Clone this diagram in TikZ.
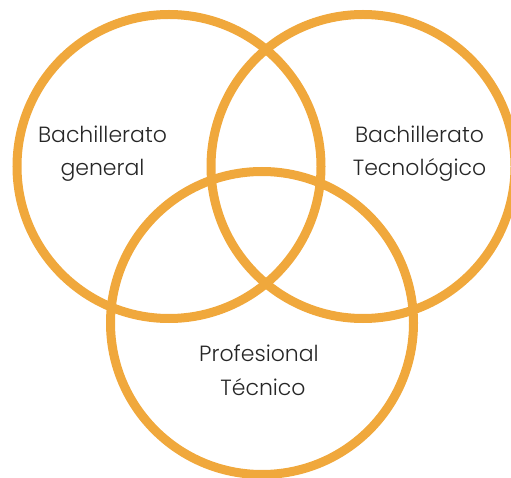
\documentclass[tikz,border=0pt]{standalone}
\usepackage{fontspec}
\setmainfont{Poppins}[UprightFont=* Light]
\definecolor{vennorange}{RGB}{240,168,60}
\begin{document}
\begin{tikzpicture}[x=1pt,y=1pt,
  venn/.style={draw=vennorange,line width=9pt},
  lbl/.style={anchor=base,inner sep=0pt,font=\fontsize{22}{26}\selectfont,text=black!85}]
\useasboundingbox (0,0) rectangle (511,477);
\draw[venn] (169,310.5) circle[radius=152];
\draw[venn] (363,310.5) circle[radius=152];
\draw[venn] (262,154) circle[radius=151.5];
\node[lbl] (g1) at (102.5,334) {Bachillerato};
\node[lbl] (g2) at (102.5,301) {general};
\node[lbl] (t1) at (419.5,334) {Bachillerato};
\node[lbl] (t2) at (419.5,301) {Tecnológico};
\node[lbl] (p1) at (259,115.3) {Profesional};
\node[lbl] (p2) at (263,82) {Técnico};
\end{tikzpicture}
\end{document}
